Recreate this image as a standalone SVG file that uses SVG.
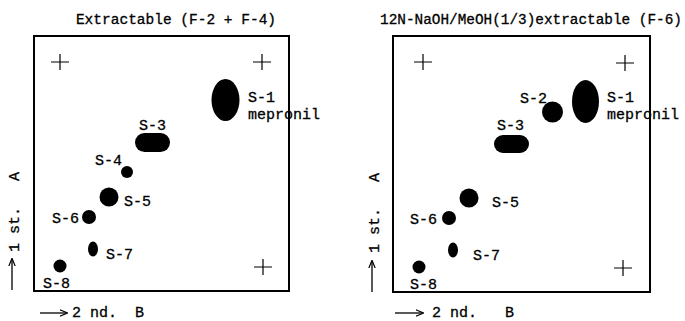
<svg xmlns="http://www.w3.org/2000/svg" width="685" height="321" viewBox="0 0 685 321">
<defs>
<style>
text{font-family:"Liberation Mono","DejaVu Sans Mono",monospace;fill:#000;stroke:#000;stroke-width:0.3}
.t{font-size:14.5px}
.l{font-size:15px}
.frame{fill:none;stroke:#000;stroke-width:2}
.x{stroke:#000;stroke-width:1.2;fill:none}
.spot{fill:#000}
.ax{stroke:#000;stroke-width:1.3;fill:none}
</style>
<marker id="ah" viewBox="0 0 10 10" refX="9" refY="5" markerWidth="8" markerHeight="8" markerUnits="userSpaceOnUse" orient="auto">
<path d="M0,1 L10,5 L0,9" fill="none" stroke="#000" stroke-width="1.5"/>
</marker>
</defs>
<rect width="685" height="321" fill="#fff"/>

<g id="panel-left">
<text class="t" x="176" y="24" text-anchor="middle">Extractable (F-2 + F-4)</text>
<rect class="frame" x="34" y="36" width="255" height="255"/>
<path class="x" d="M51,62 H69 M60,54 V70 M253,62 H271 M262,54 V70 M254,267 H272 M263,259 V275"/>
<g id="L-S1"><ellipse class="spot" cx="225.5" cy="100" rx="14" ry="21"/><text class="l" x="248" y="102">S-1</text><text class="l" x="248" y="119">mepronil</text></g>
<g id="L-S3"><rect class="spot" x="135" y="133" width="35" height="19" rx="9.5"/><text class="l" x="139" y="130">S-3</text></g>
<g id="L-S4"><circle class="spot" cx="127" cy="172" r="6"/><text class="l" x="95" y="165">S-4</text></g>
<g id="L-S5"><circle class="spot" cx="109" cy="197" r="9.5"/><text class="l" x="124" y="206">S-5</text></g>
<g id="L-S6"><circle class="spot" cx="89" cy="217" r="7"/><text class="l" x="52" y="223">S-6</text></g>
<g id="L-S7"><ellipse class="spot" cx="93" cy="249" rx="5" ry="7.5"/><text class="l" x="106" y="259">S-7</text></g>
<g id="L-S8"><circle class="spot" cx="60" cy="266" r="6.5"/><text class="l" x="43" y="288">S-8</text></g>
<g id="L-axes">
<line class="ax" x1="12" y1="290" x2="12" y2="259" marker-end="url(#ah)"/>
<text class="l" transform="translate(19,252) rotate(-90)">1 st.</text>
<text class="l" transform="translate(19,181) rotate(-90)">A</text>
<line class="ax" x1="40" y1="313" x2="67" y2="313" marker-end="url(#ah)"/>
<text class="l" x="72" y="317">2 nd.</text>
<text class="l" x="135" y="317">B</text>
</g>
</g>

<g id="panel-right">
<text class="t" x="531" y="24" text-anchor="middle" textLength="302" lengthAdjust="spacingAndGlyphs">12N-NaOH/MeOH(1/3)extractable (F-6)</text>
<rect class="frame" x="393" y="36" width="257" height="256"/>
<path class="x" d="M414,62 H432 M423,54 V70 M616,63 H634 M625,55 V71 M614,268 H632 M623,260 V276"/>
<g id="R-S1"><ellipse class="spot" cx="585.5" cy="101.5" rx="13.5" ry="21.5"/><text class="l" x="607" y="102">S-1</text><text class="l" x="607" y="119">mepronil</text></g>
<g id="R-S2"><circle class="spot" cx="552.5" cy="112" r="10.5"/><text class="l" x="520" y="103">S-2</text></g>
<g id="R-S3"><rect class="spot" x="494" y="135" width="35" height="18" rx="9"/><text class="l" x="497" y="130">S-3</text></g>
<g id="R-S5"><circle class="spot" cx="469" cy="198" r="9.5"/><text class="l" x="492" y="207">S-5</text></g>
<g id="R-S6"><circle class="spot" cx="449" cy="218" r="7"/><text class="l" x="410" y="224">S-6</text></g>
<g id="R-S7"><ellipse class="spot" cx="453" cy="250" rx="5" ry="7.5"/><text class="l" x="473" y="260">S-7</text></g>
<g id="R-S8"><circle class="spot" cx="419" cy="267" r="6.5"/><text class="l" x="410" y="289">S-8</text></g>
<g id="R-axes">
<line class="ax" x1="372" y1="292" x2="372" y2="261" marker-end="url(#ah)"/>
<text class="l" transform="translate(379,253) rotate(-90)">1 st.</text>
<text class="l" transform="translate(379,182) rotate(-90)">A</text>
<line class="ax" x1="395" y1="313" x2="423" y2="313" marker-end="url(#ah)"/>
<text class="l" x="432" y="317">2 nd.</text>
<text class="l" x="505" y="317">B</text>
</g>
</g>
</svg>
